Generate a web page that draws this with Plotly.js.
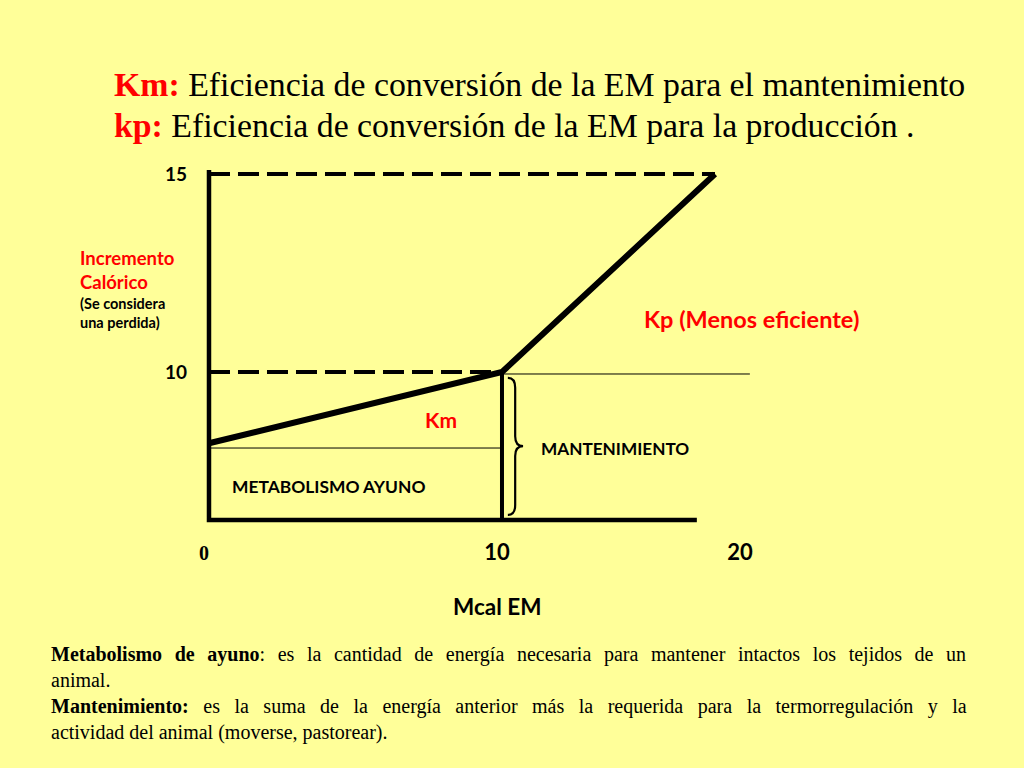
<!DOCTYPE html>
<html>
<head>
<meta charset="utf-8">
<script src="https://cdn.plot.ly/plotly-3.0.1.min.js"></script>
<style>html,body{margin:0;padding:0;background:#FFFF99;}#chart{width:1024px;height:768px;}</style>
</head>
<body>
<div id="chart"></div>
<script>
// ---- data ----
const emPoints = [0, 10, 17.27];      // Mcal EM (x) of the efficiency curve
const icPoints = [8.2, 10, 15];       // Incremento calórico (y) of the curve
const ayunoLevel = 8.08;              // fasting metabolism level
const baseLevel = 6.26;               // bottom of the y axis
const axisTop = 15.1;                 // top of the y axis line
const axisRight = 16.65;              // end of the x axis line
const mantenRightEnd = 18.46;         // end of the thin line at maintenance level
const yTickVals = [10, 15];
const yTickText = ['10', '15'];
const xTickPos = [-0.17, 9.83, 18.12];
const xTickText = ['<span style="font-family:Liberation Serif;font-size:20px">0</span>', '10', '20'];
const braceXs = [10.2, 10.45, 10.72]; // ends, spine, tip
const braceYs = [9.85, 8.13, 6.39];   // top, middle, bottom

const black = '#000000';
const red = '#FF0000';
const sans = 'Lato';
const serif = 'Liberation Serif';

function line(x, y, width, dash, color) {
  return {x: x, y: y, mode: 'lines', type: 'scatter', hoverinfo: 'skip', showlegend: false,
          line: {color: color || black, width: width, dash: dash || 'solid', shape: 'linear'}};
}

const traces = [
  line([emPoints[1], mantenRightEnd], [icPoints[1] - 0.05, icPoints[1] - 0.05], 1),
  line([emPoints[0], emPoints[1]], [ayunoLevel, ayunoLevel], 1),
  line([emPoints[0], emPoints[2]], [icPoints[2], icPoints[2]], 4, '21px,8px'),
  line([emPoints[0], emPoints[1]], [icPoints[1], icPoints[1]], 4, '21px,8px'),
  line([emPoints[1], emPoints[1]], [baseLevel, icPoints[1]], 4),
  line([emPoints[0], emPoints[0], axisRight], [axisTop, baseLevel, baseLevel], 4.5),
  line(emPoints, icPoints, 6)
];

const bx = braceXs, by = braceYs, d = 0.25;
const bracePath = `M ${bx[0]},${by[0]} Q ${bx[1]},${by[0]} ${bx[1]},${by[0]-d} L ${bx[1]},${by[1]+d} ` +
  `Q ${bx[1]},${by[1]} ${bx[2]},${by[1]} Q ${bx[1]},${by[1]} ${bx[1]},${by[1]-d} ` +
  `L ${bx[1]},${by[2]+d} Q ${bx[1]},${by[2]} ${bx[0]},${by[2]}`;

const yLabelLines = [
  {t: 'Incremento', y: 12.88, c: red, s: 18.5},
  {t: 'Calórico', y: 12.27, c: red, s: 18.5},
  {t: '(Se considera', y: 11.74, c: black, s: 14.5},
  {t: 'una perdida)', y: 11.24, c: black, s: 14.5}
];

const notes = [
  '<span style="word-spacing:7.6px"><b>Metabolismo de ayuno</b>: es la cantidad de energía necesaria para mantener intactos los tejidos de un</span>',
  'animal.',
  '<span style="word-spacing:9.5px"><b>Mantenimiento:</b> es la suma de la energía anterior más la requerida para la termorregulación y la</span>',
  'actividad del animal (moverse, pastorear).'
];

const titleLines = [
  {k: 'Km:', t: 'Eficiencia de conversión de la EM para el mantenimiento', y: 1.2054},
  {k: 'kp:', t: 'Eficiencia de conversión de la EM para la producción .', y: 1.0919}
];

const annotations = [
  {x: 18.5, y: 11.34, text: '<b>Kp (Menos eficiente)</b>', font: {family: sans, size: 23.5, color: red}},
  {x: 7.92, y: 8.81, text: '<b>Km</b>', font: {family: sans, size: 21, color: red}},
  {x: 13.86, y: 8.06, text: '<b>MANTENIMIENTO</b>', font: {family: sans, size: 17.2, color: black}},
  {x: 4.10, y: 7.10, text: '<b>METABOLISMO AYUNO</b>', font: {family: sans, size: 17.4, color: black}},
  {x: 9.83, xref: 'x', y: -0.208, yref: 'paper', yanchor: 'middle', text: '<b>Mcal EM</b>', font: {family: sans, size: 22.5, color: black}},
  {x: -0.2432, xref: 'paper', xanchor: 'left', y: -0.300, yref: 'paper', yanchor: 'top', align: 'left',
   text: notes.join('<br>'),
   font: {family: serif, size: 20, color: black}}
].concat(titleLines.map(l => ({
  x: -0.1345, xref: 'paper', xanchor: 'left', y: l.y, yref: 'paper', yanchor: 'middle', align: 'left',
  text: '<span style="color:#FF0000"><b>' + l.k + '</b></span> ' + l.t,
  font: {family: serif, size: 33.8, color: black}
}))).concat(yLabelLines.map(l => ({
  x: -0.193, xref: 'paper', xanchor: 'left', y: l.y, yref: 'y', align: 'left',
  text: '<b>' + l.t + '</b>', font: {family: sans, size: l.s, color: l.c}
}))).map(a => Object.assign({showarrow: false, xref: 'x', yref: 'y'}, a));

const layout = {
  width: 1024, height: 768,
  paper_bgcolor: '#FFFF99', plot_bgcolor: '#FFFF99',
  font: {family: serif},
  margin: {l: 190, r: 254, t: 160, b: 238},
  showlegend: false,
  xaxis: {
    range: [-0.648, 19.147], showgrid: false, zeroline: false, showline: false,
    tickmode: 'array', tickvals: xTickPos, ticktext: xTickText, ticks: '', ticklen: 0,
    ticklabelstandoff: 7,
    tickfont: {family: sans, size: 22, color: black, weight: 'bold'}, fixedrange: true
  },
  yaxis: {
    range: [6.010, 15.354], showgrid: false, zeroline: false, showline: false,
    tickmode: 'array', tickvals: yTickVals, ticktext: yTickText, ticks: '', ticklen: 0,
    ticklabelstandoff: 2,
    tickfont: {family: sans, size: 19, color: black, weight: 'bold'}, fixedrange: true
  },
  shapes: [{type: 'path', xref: 'x', yref: 'y', path: bracePath, line: {color: black, width: 2.2}}],
  annotations: annotations
};

Plotly.newPlot('chart', traces, layout, {displayModeBar: false, staticPlot: true});
</script>
</body>
</html>
